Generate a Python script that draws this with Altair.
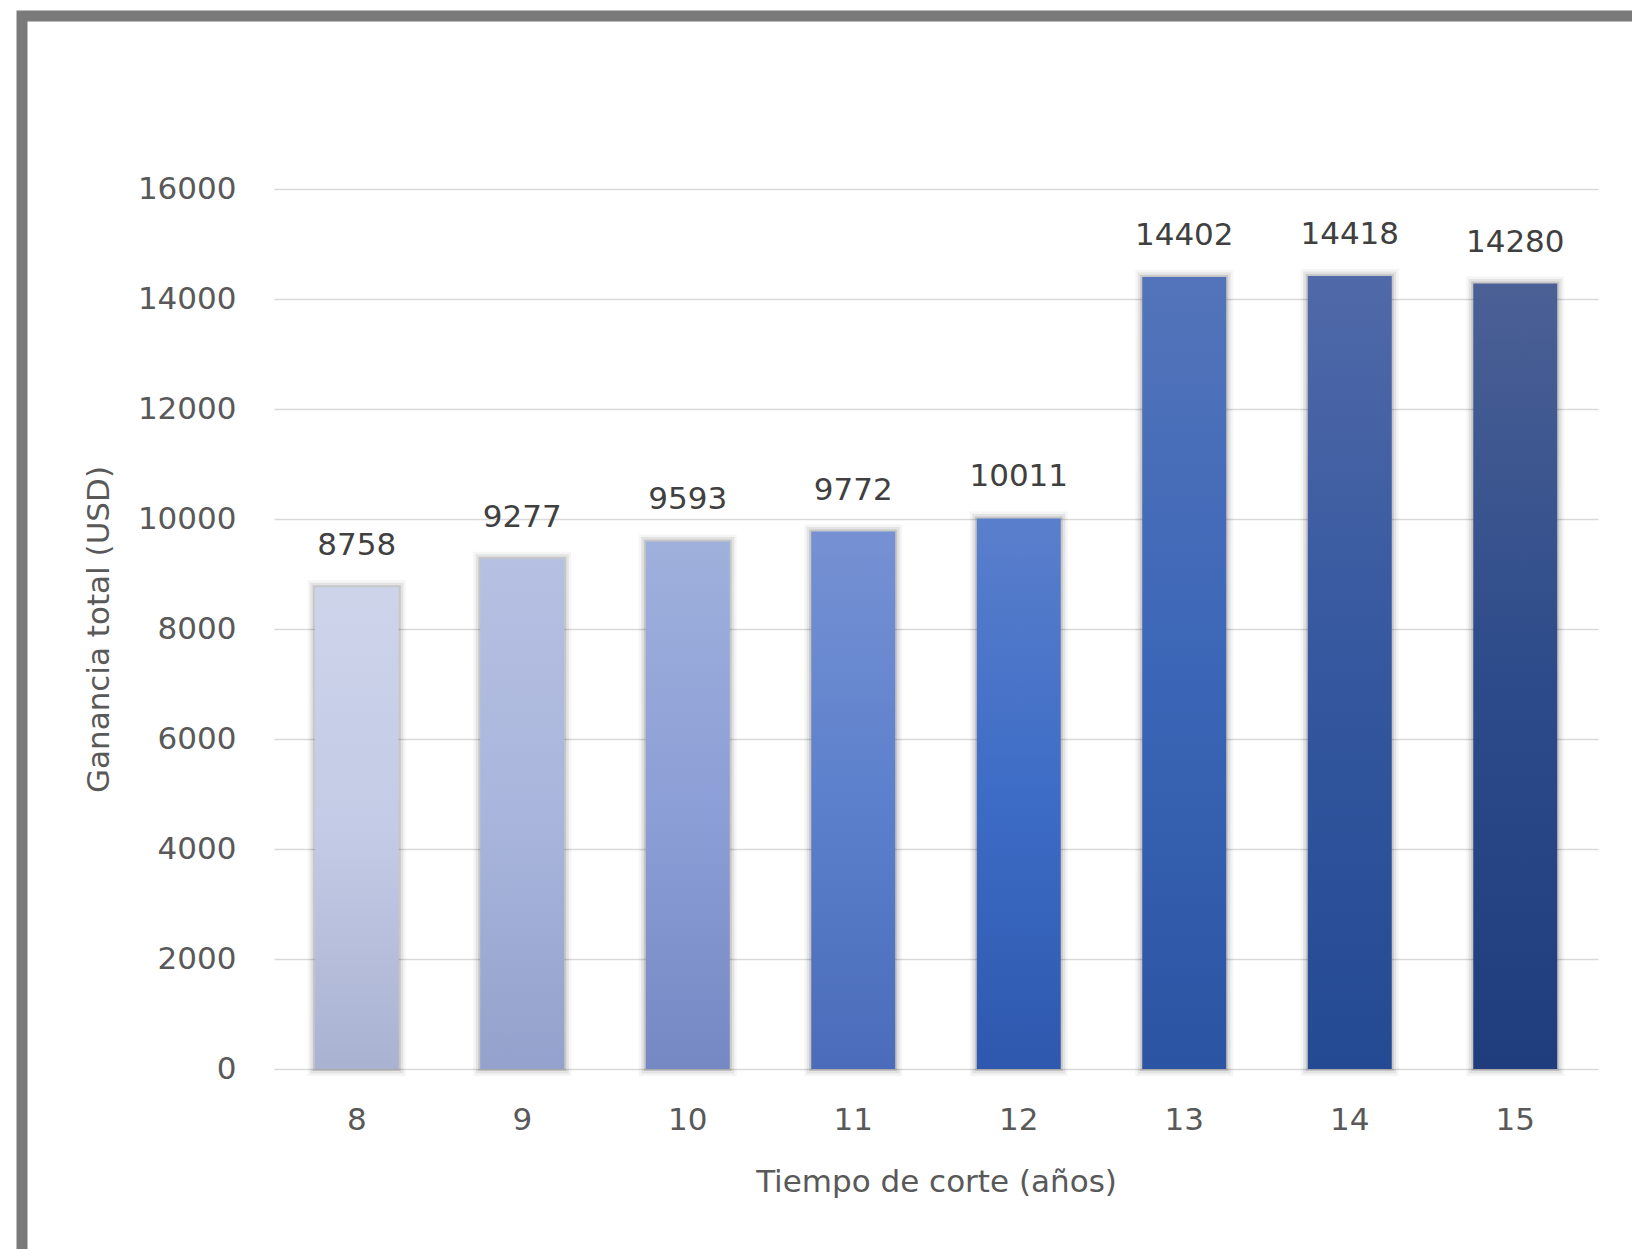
import altair as alt
import pandas as pd

years = ["8", "9", "10", "11", "12", "13", "14", "15"]
ganancia = [8758, 9277, 9593, 9772, 10011, 14402, 14418, 14280]
top_colors = ["#cdd4ea", "#b6c0e2", "#9fb0dc", "#7691d3", "#5a7fcc", "#5374ba", "#5069a8", "#4b6095"]
mid_colors = ["#c3cbe6", "#a9b5dc", "#8c9fd6", "#5c80cc", "#3d6cc6", "#3b66b7", "#34579f", "#2d4b8a"]
bot_colors = ["#aab2d2", "#93a1cc", "#7588c4", "#4a6cba", "#2e58ae", "#2b54a2", "#244a93", "#1f3c7d"]
y_ticks = [0, 2000, 4000, 6000, 8000, 10000, 12000, 14000, 16000]

df = pd.DataFrame({"year": years, "value": ganancia})

FONT = "DejaVu Sans"
W, H = 1324, 880

x_enc = alt.X("year:O", sort=years,
              scale=alt.Scale(paddingInner=0.5, paddingOuter=0.25),
              axis=alt.Axis(title="Tiempo de corte (años)", labelAngle=0, ticks=False, domain=False,
                            labelFont=FONT, labelFontSize=31, labelColor="#595959", labelPadding=36,
                            titleFont=FONT, titleFontSize=31, titleFontWeight="normal",
                            titleColor="#595959", titlePadding=32))
y_enc = alt.Y("value:Q", scale=alt.Scale(domain=[0, 16000], nice=False),
              axis=alt.Axis(title="Ganancia total (USD)", values=y_ticks, format="d",
                            ticks=False, domain=False,
                            grid=True, gridColor="#d9d9d9", gridWidth=1.6,
                            labelFont=FONT, labelFontSize=31, labelColor="#595959", labelPadding=38,
                            titleFont=FONT, titleFontSize=31, titleFontWeight="normal",
                            titleColor="#595959", titlePadding=22))

base = alt.Chart(df)

shadows = [
    base.mark_bar(size=84, fill="transparent", stroke="#000000", strokeOpacity=op,
                  strokeWidth=sw).encode(x=x_enc, y=y_enc)
    for sw, op in [(14, 0.04), (9, 0.07), (4, 0.12)]
]

bars = []
for yr, c1, c2, c3 in zip(years, top_colors, mid_colors, bot_colors):
    grad = alt.Gradient(gradient="linear", x1=0, x2=0, y1=0, y2=1,
                        stops=[alt.GradientStop(color=c1, offset=0),
                               alt.GradientStop(color=c2, offset=0.5),
                               alt.GradientStop(color=c3, offset=1)])
    bars.append(base.transform_filter(alt.datum.year == yr)
                .mark_bar(size=84, color=grad, opacity=1)
                .encode(x=x_enc, y=y_enc))

labels = base.mark_text(font=FONT, fontSize=31, color="#404040", baseline="alphabetic",
                        dy=-32).encode(x=x_enc, y=y_enc, text=alt.Text("value:Q", format="d"))

frame = alt.Chart(pd.DataFrame({"f": [0]})).mark_rect(
    fill="transparent", stroke="#7a7a7a", strokeWidth=11
).encode(x=alt.value(-252), x2=alt.value(1420), y=alt.value(-173), y2=alt.value(1120))

chart = alt.layer(*shadows, *bars, labels, frame).properties(
    width=W, height=H,
    autosize=alt.AutoSizeParams(type="none"),
    padding={"left": 274, "top": 189, "right": 34, "bottom": 180},
    background="white",
).configure_view(stroke=None)

chart.save("out.html", embed_options={"renderer": "svg", "actions": False})
